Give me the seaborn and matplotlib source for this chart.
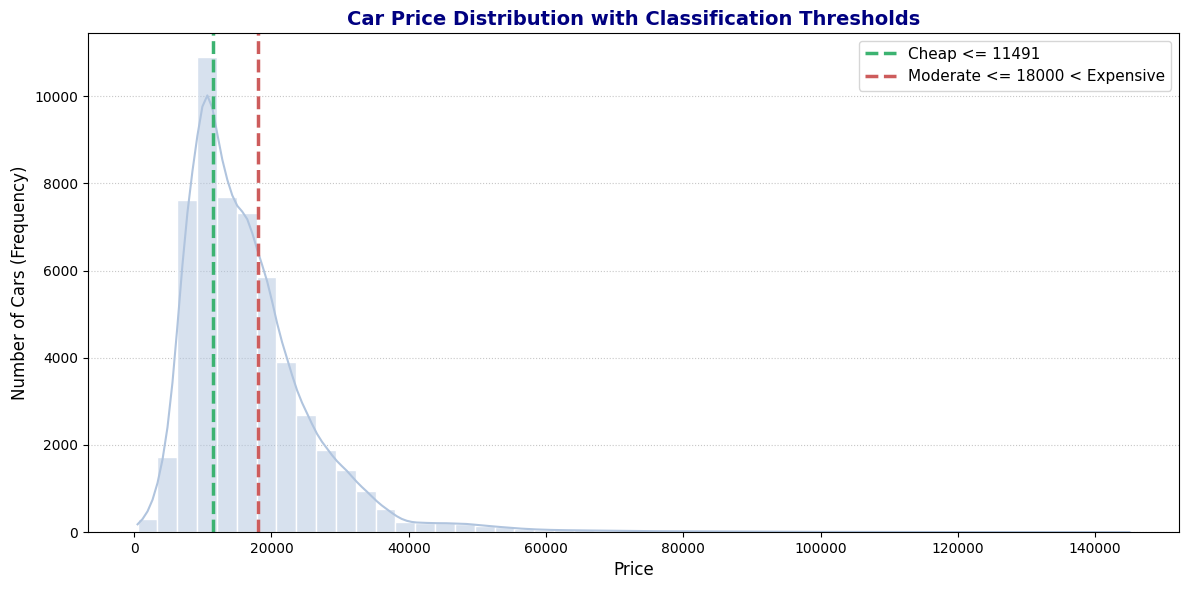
import numpy as np
import pandas as pd
import matplotlib
matplotlib.use("Agg")
import matplotlib.pyplot as plt
import seaborn as sns

# price range and histogram counts (50 bins)
price_min = 500
price_max = 145000
n_bins = 50
counts = [310, 1730, 7610, 10900, 7680, 7330, 5840, 3910, 2690, 1890,
          1425, 940, 530, 230, 210, 205, 195, 150, 110, 75,
          55, 45, 40, 35, 30, 25, 22, 20, 18, 15,
          12, 10, 9, 8, 7, 6, 5, 5, 4, 4,
          3, 3, 2, 2, 2, 2, 1, 1, 1, 2]

cheap_limit = 11491
moderate_limit = 18000

bin_width = (price_max - price_min) / n_bins
centers = price_min + bin_width * (np.arange(n_bins) + 0.5)

# bin centers weighted by counts, plus min/max prices (weight 0) for the kde support
df = pd.DataFrame({
    "Price": np.concatenate([centers, [price_min, price_max]]),
    "count": np.concatenate([counts, [0, 0]]),
})

fig, ax = plt.subplots(figsize=(11.89, 5.9), dpi=100)
plt.subplots_adjust(left=0.074, right=0.9916, top=0.944, bottom=0.098)

sns.histplot(data=df, x="Price", weights="count", binwidth=bin_width,
             binrange=(price_min, price_max), kde=True,
             kde_kws={"bw_adjust": 0.23},
             color="lightsteelblue", alpha=0.5, edgecolor="white", linewidth=1,
             line_kws={"linewidth": 1.5}, ax=ax)

ax.axvline(cheap_limit, color="mediumseagreen", linestyle="--", linewidth=2.5,
           label=f"Cheap <= {cheap_limit}")
ax.axvline(moderate_limit, color="indianred", linestyle="--", linewidth=2.5,
           label=f"Moderate <= {moderate_limit} < Expensive")

ax.set_title("Car Price Distribution with Classification Thresholds",
             fontsize=14, fontweight="bold", color="navy")
ax.set_xlabel("Price", fontsize=12)
ax.set_ylabel("Number of Cars (Frequency)", fontsize=12)
ax.grid(axis="y", linestyle=":", alpha=0.7)
ax.set_axisbelow(True)
ax.legend(loc="upper right", fontsize=11)

plt.savefig("out.png")
